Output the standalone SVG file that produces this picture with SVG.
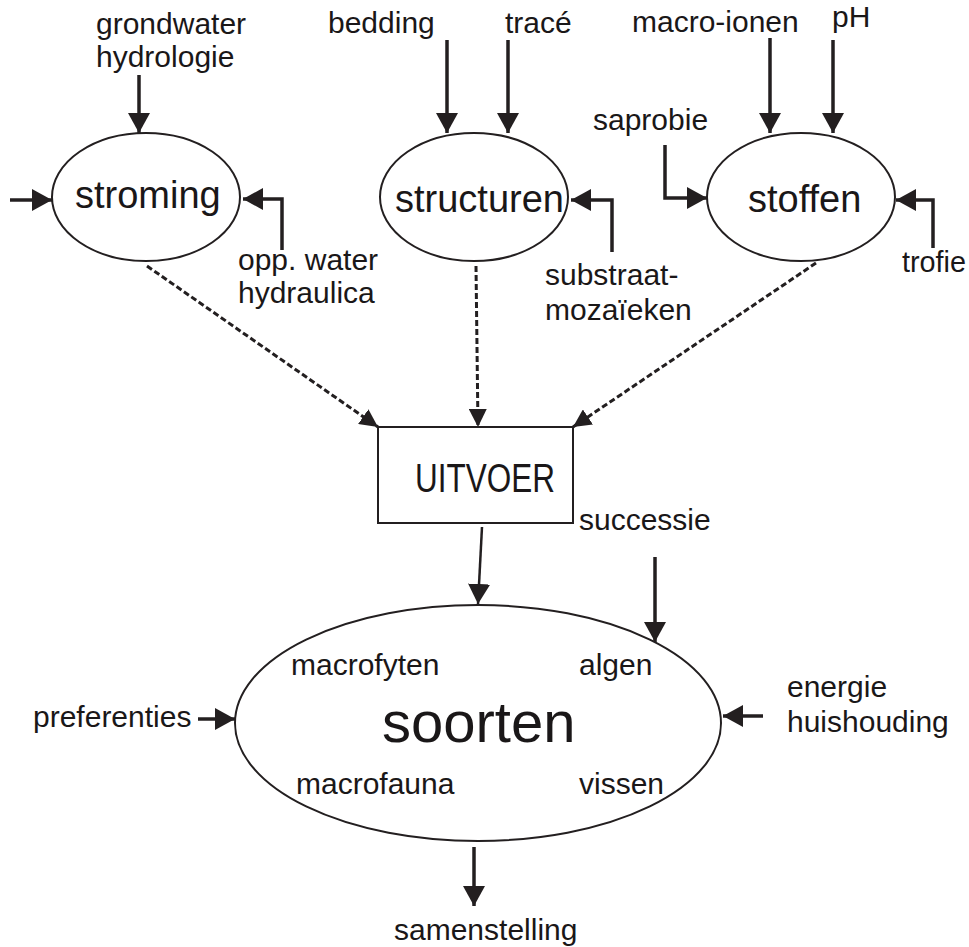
<svg xmlns="http://www.w3.org/2000/svg" width="969" height="947" viewBox="0 0 969 947">
<style>
  text { font-family: "Liberation Sans", Arial, sans-serif; fill: #1a1718; }
  .lbl { font-size: 30px; }
  .big { font-size: 38px; }
  .node { fill: #ffffff; stroke: #231f20; stroke-width: 2; }
  .solid { fill: none; stroke: #231f20; stroke-width: 3.5; marker-end: url(#ah); }
  .thin { fill: none; stroke: #231f20; stroke-width: 2.5; marker-end: url(#ah); }
  .dash { fill: none; stroke: #231f20; stroke-width: 3; stroke-dasharray: 6 3; marker-end: url(#ahd); }
</style>
<defs>
  <marker id="ah" markerUnits="userSpaceOnUse" markerWidth="20" markerHeight="22" refX="20" refY="11" orient="auto">
    <path d="M0,0 L20,11 L0,22 z" fill="#231f20"/>
  </marker>
  <marker id="ahd" markerUnits="userSpaceOnUse" markerWidth="18" markerHeight="18" refX="18" refY="9" orient="auto">
    <path d="M0,0 L18,9 L0,18 z" fill="#231f20"/>
  </marker>
</defs>
<rect width="969" height="947" fill="#ffffff"/>

<g id="connectors">
  <path class="solid" d="M139,75 L139,133"/>
  <path class="solid" d="M10,200 L52,200"/>
  <path class="solid" d="M282,250 L282,199 L243,199"/>
  <path class="solid" d="M447,40 L447,133"/>
  <path class="solid" d="M508,40 L508,133"/>
  <path class="solid" d="M612,252 L612,200 L571,200"/>
  <path class="solid" d="M770,38 L770,133"/>
  <path class="solid" d="M833,40 L833,133"/>
  <path class="solid" d="M665,145 L665,198 L707,198"/>
  <path class="solid" d="M933,248 L933,200 L896,200"/>
  <path class="dash" d="M147,266 L378,427"/>
  <path class="dash" d="M476,266 L478,427"/>
  <path class="dash" d="M816,263 L573,427"/>
  <path class="thin" d="M482,527 L478,604"/>
  <path class="solid" d="M655,557 L655,642"/>
  <path class="solid" d="M198,719 L235,719"/>
  <path class="solid" d="M763,716 L723,716"/>
  <path class="solid" d="M474,847 L474,906"/>
</g>

<g id="labels">
  <text class="lbl" x="96" y="34">grondwater</text>
  <text class="lbl" x="96" y="67">hydrologie</text>
  <text class="lbl" x="238" y="270">opp. water</text>
  <text class="lbl" x="238" y="303">hydraulica</text>
  <text class="lbl" x="328" y="33">bedding</text>
  <text class="lbl" x="505" y="33">tracé</text>
  <text class="lbl" x="545" y="285">substraat-</text>
  <text class="lbl" x="545" y="320">mozaïeken</text>
  <text class="lbl" x="632" y="32">macro-ionen</text>
  <text class="lbl" x="832" y="27">pH</text>
  <text class="lbl" x="593" y="130">saprobie</text>
  <text class="lbl" x="902" y="272" textLength="64" lengthAdjust="spacingAndGlyphs">trofie</text>
  <text class="lbl" x="579" y="530">successie</text>
  <text class="lbl" x="33" y="727">preferenties</text>
  <text class="lbl" x="787" y="697">energie</text>
  <text class="lbl" x="787" y="732">huishouding</text>
  <text class="lbl" x="394" y="940">samenstelling</text>
</g>

<g id="stroming">
  <ellipse class="node" cx="146" cy="197" rx="94" ry="64"/>
  <text class="big" x="75" y="208">stroming</text>
</g>
<g id="structuren">
  <ellipse class="node" cx="474" cy="197" rx="94" ry="64"/>
  <text class="big" x="395" y="212">structuren</text>
</g>
<g id="stoffen">
  <ellipse class="node" cx="801" cy="197" rx="94" ry="64"/>
  <text class="big" x="748" y="212">stoffen</text>
</g>
<g id="uitvoer">
  <rect class="node" x="378" y="427" width="195" height="96"/>
  <text x="415" y="492" font-size="40" textLength="140" lengthAdjust="spacingAndGlyphs">UITVOER</text>
</g>
<g id="soorten">
  <ellipse class="node" cx="478" cy="723" rx="243" ry="118"/>
  <text x="382" y="742" font-size="58">soorten</text>
  <text class="lbl" x="291" y="675">macrofyten</text>
  <text class="lbl" x="579" y="675">algen</text>
  <text class="lbl" x="296" y="794">macrofauna</text>
  <text class="lbl" x="579" y="794">vissen</text>
</g>
</svg>
